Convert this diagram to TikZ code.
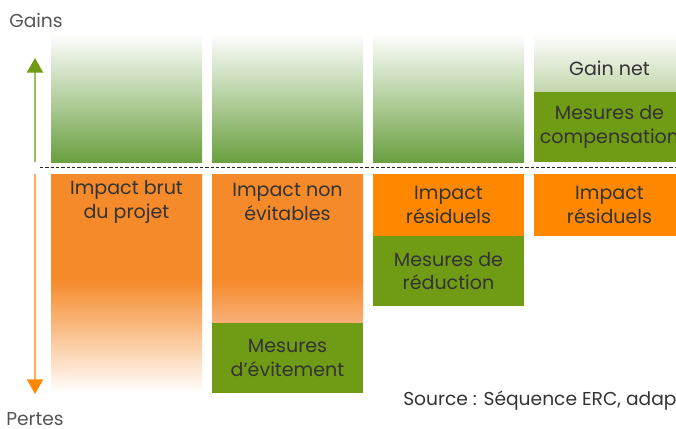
\documentclass[tikz,border=0pt]{standalone}
\usepackage{fontspec}
\setmainfont{Poppins}
\usetikzlibrary{arrows.meta,positioning}
\definecolor{ercOrange}{HTML}{F58A2A}
\definecolor{ercLight}{HTML}{F9B07A}
\definecolor{resOrange}{HTML}{FF8800}
\definecolor{mesGreen}{HTML}{6F9C14}
\definecolor{gainGreen}{HTML}{6AA040}
\definecolor{netGreen}{HTML}{C2D6AC}
\definecolor{headGreen}{HTML}{6F9C14}
\definecolor{lineGreen}{HTML}{96C064}
\definecolor{lineOrange}{HTML}{FBAE5E}
\definecolor{ercText}{HTML}{333333}
\definecolor{axisText}{HTML}{555555}
\newcommand\boxfont{\fontsize{14.3}{17.5}\selectfont}
\newcommand\srcfont{\fontsize{14}{17}\selectfont}
\pgfdeclareverticalshading{brutFade}{100bp}{color(0bp)=(white); color(25bp)=(white);
  color(50.8bp)=(ercOrange); color(100bp)=(ercOrange)}
\pgfdeclareverticalshading{nonFade}{100bp}{color(0bp)=(ercLight); color(25bp)=(ercLight);
  color(39.5bp)=(ercOrange); color(100bp)=(ercOrange)}
\begin{document}
\begin{tikzpicture}[x=0.75pt,y=-0.75pt]
    \useasboundingbox (0,0) rectangle (676,429);
    \clip (0,0) rectangle (676,429);
    \tikzset{%
      BoxStyle/.style = {rectangle, anchor=north, inner sep=0pt, outer sep=0pt,
        minimum width=113.25pt, align=center, text=ercText, font=\boxfont},
      GainStyle/.style = {BoxStyle, minimum height=96.75pt,
        top color=white, bottom color=gainGreen},
      MesureStyle/.style = {BoxStyle, minimum height=52.5pt, fill=mesGreen},
      ResidStyle/.style = {BoxStyle, minimum height=46.5pt, fill=resOrange},
      TextStyle/.style = {align=center, text=ercText, font=\boxfont, inner sep=0pt},
      AxisStyle/.style = {text=axisText, font=\srcfont, inner sep=0pt, anchor=base west},
      GainArrow/.style = {line width=1.5pt, draw=lineGreen,
        -{Triangle[width=12pt,length=11pt,color=headGreen]}},
      LossArrow/.style = {line width=1.5pt, draw=lineOrange,
        -{Triangle[width=12pt,length=11pt,color=resOrange]}}}
    % gains
    \node[GainStyle] (g1) at (126.5,33) {};
    \node[GainStyle] (g2) at (287.5,33) {};
    \node[GainStyle] (g3) at (448.5,33) {};
    \node[BoxStyle, minimum height=44.25pt, top color=white, bottom color=netGreen] (net) at (609.5,33) {};
    \node[TextStyle] (tnet) at (609.5,68) {Gain net};
    \node[MesureStyle, below=0pt of net] (comp) {Mesures de\\compensation};
    % pertes
    \node[BoxStyle, minimum height=164.25pt, shading=brutFade] (b1) at (126.5,174) {};
    \node[TextStyle] (t1) at (126.5,202) {Impact brut\\du projet};
    \node[BoxStyle, minimum height=111.75pt, shading=nonFade] (b2) at (287.5,174) {};
    \node[TextStyle] (t2) at (287.5,202) {Impact non\\évitables};
    \node[MesureStyle, below=0pt of b2] (m2) {Mesures\\d’évitement};
    \node[ResidStyle] (r3) at (448.5,174) {Impact\\résiduels};
    \node[MesureStyle, below=0pt of r3] (m3) {Mesures de\\réduction};
    \node[ResidStyle] (r4) at (609.5,174) {Impact\\résiduels};
    % axes
    \coordinate (gBot) at (35,162);
    \coordinate (gTop) at (35,58);
    \coordinate (pTop) at (35,174);
    \coordinate (pBot) at (35,394);
    \draw[GainArrow] (gBot) -- (gTop);
    \draw[LossArrow] (pTop) -- (pBot);
    \coordinate (dL) at (40,167.5);
    \coordinate (dR) at (676,167.5);
    \draw[line width=0.8pt, dash pattern=on 2.5pt off 1.5pt, draw=black!85] (dL) -- (dR);
    \node[AxisStyle] (gains) at (9,27) {Gains};
    \node[AxisStyle] (pertes) at (6,425) {Pertes};
    \node[AxisStyle, text=ercText] (src) at (403,405.5) {Source : Séquence ERC, adap};
\end{tikzpicture}
\end{document}
